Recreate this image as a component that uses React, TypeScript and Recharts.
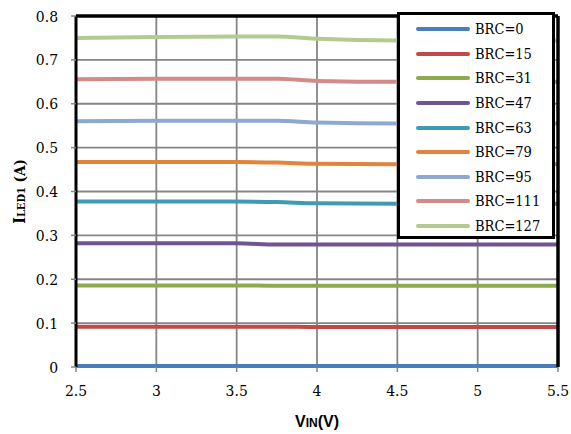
import React from "react";
import {
  CartesianGrid,
  Legend,
  Line,
  LineChart,
  ReferenceLine,
  XAxis,
  YAxis,
} from "recharts";

// input voltage (V)
const vin = [2.5, 3, 3.5, 3.75, 4, 4.5, 5, 5.5];

// LED1 current (A) for each BRC code
const brc0 = [0.002, 0.002, 0.002, 0.002, 0.002, 0.002, 0.002, 0.002];
const brc15 = [0.092, 0.092, 0.092, 0.092, 0.091, 0.091, 0.091, 0.091];
const brc31 = [0.186, 0.186, 0.186, 0.185, 0.185, 0.185, 0.185, 0.185];
const brc47 = [0.282, 0.282, 0.282, 0.279, 0.279, 0.279, 0.279, 0.279];
const brc63 = [0.377, 0.377, 0.377, 0.376, 0.373, 0.372, 0.372, 0.372];
const brc79 = [0.467, 0.467, 0.467, 0.466, 0.463, 0.462, 0.462, 0.462];
const brc95 = [0.56, 0.561, 0.561, 0.561, 0.557, 0.555, 0.555, 0.555];
const brc111 = [0.656, 0.657, 0.657, 0.657, 0.652, 0.65, 0.65, 0.65];
const brc127 = [0.75, 0.752, 0.753, 0.753, 0.748, 0.744, 0.744, 0.744];

const xTicks = [2.5, 3, 3.5, 4, 4.5, 5, 5.5];
const yTicks = [0, 0.1, 0.2, 0.3, 0.4, 0.5, 0.6, 0.7, 0.8];

const series = [
  { key: "brc0", name: "BRC=0", values: brc0, color: "#4a7ebb" },
  { key: "brc15", name: "BRC=15", values: brc15, color: "#be4b48" },
  { key: "brc31", name: "BRC=31", values: brc31, color: "#8cab4c" },
  { key: "brc47", name: "BRC=47", values: brc47, color: "#6f5592" },
  { key: "brc63", name: "BRC=63", values: brc63, color: "#3f9bb3" },
  { key: "brc79", name: "BRC=79", values: brc79, color: "#e2843a" },
  { key: "brc95", name: "BRC=95", values: brc95, color: "#8ea8d4" },
  { key: "brc111", name: "BRC=111", values: brc111, color: "#d38b8a" },
  { key: "brc127", name: "BRC=127", values: brc127, color: "#b4cb8f" },
];

const data = vin.map((v, i) => {
  const row: any = { vin: v };
  series.forEach((s) => (row[s.key] = s.values[i]));
  return row;
});

const serif = "'DejaVu Serif Condensed', 'DejaVu Serif', serif";
const gridColor = "#858585";

function XTick({ x, y, payload }: any) {
  return (
    <text x={x} y={y} dy={11} textAnchor="middle" fontFamily={serif} fontSize={15.5} fill="#000">
      {payload.value}
    </text>
  );
}

function YTick({ x, y, payload }: any) {
  return (
    <text x={x} y={y} dy={5.5} textAnchor="end" fontFamily={serif} fontSize={15.5} fill="#000">
      {payload.value}
    </text>
  );
}

function LegendBox() {
  return (
    <div
      style={{
        width: 152,
        height: 219,
        border: "3px solid #000",
        background: "#fff",
        boxSizing: "content-box",
        paddingTop: 2,
      }}
    >
      {series.map((s) => (
        <div key={s.key} style={{ display: "flex", alignItems: "center", height: 24.6 }}>
          <span
            style={{
              display: "inline-block",
              marginLeft: 16,
              width: 54,
              height: 4,
              borderRadius: 2,
              background: s.color,
            }}
          />
          <span style={{ marginLeft: 5, fontFamily: serif, fontSize: 14.5, color: "#000" }}>{s.name}</span>
        </div>
      ))}
    </div>
  );
}

function YLabel(props: any) {
  const vb = props.viewBox || { x: 0, y: 16, width: 76, height: 351 };
  const cx = vb.x + 25;
  const cy = vb.y + vb.height / 2;
  return (
    <text
      x={cx}
      y={cy}
      transform={`rotate(-90, ${cx}, ${cy})`}
      textAnchor="middle"
      fontFamily={serif}
      fontWeight="bold"
      fill="#000"
    >
      <tspan fontSize={16}>I</tspan>
      <tspan fontSize={11}>LED1</tspan>
      <tspan fontSize={15}> (A)</tspan>
    </text>
  );
}

function XLabel(props: any) {
  const vb = props.viewBox || { x: 76, y: 367, width: 482, height: 67 };
  const cx = vb.x + vb.width / 2;
  return (
    <text
      x={cx}
      y={427}
      textAnchor="middle"
      fontFamily="Liberation Sans"
      fontWeight="bold"
      fill="#000"
    >
      <tspan fontSize={16}>V</tspan>
      <tspan fontSize={12}>IN</tspan>
      <tspan fontSize={16}>(V)</tspan>
    </text>
  );
}

export default function App() {
  return (
    <div style={{ position: "absolute", left: 0, top: 0, width: 571, height: 434, background: "#fff" }}>
      <LineChart
        width={571}
        height={434}
        data={data}
        margin={{ top: 16, right: 13, bottom: 0, left: 0 }}
      >
        <CartesianGrid stroke={gridColor} strokeWidth={1.8} />
        <XAxis
          dataKey="vin"
          type="number"
          domain={[2.5, 5.5]}
          ticks={xTicks}
          height={67}
          tick={<XTick />}
          tickLine={{ stroke: gridColor, strokeWidth: 1.5 }}
          tickSize={5}
          tickMargin={13}
          axisLine={false}
          label={{ content: (p: any) => <XLabel {...p} /> }}
        />
        <YAxis
          type="number"
          domain={[0, 0.8]}
          ticks={yTicks}
          width={76}
          tick={<YTick />}
          tickLine={{ stroke: gridColor, strokeWidth: 1.5 }}
          tickSize={5}
          tickMargin={13}
          axisLine={{ stroke: "#000", strokeWidth: 3 }}
          label={{ content: (p: any) => <YLabel {...p} /> }}
        />
        {series.map((s) => (
          <Line
            key={s.key}
            type="monotone"
            dataKey={s.key}
            name={s.name}
            stroke={s.color}
            strokeWidth={4}
            dot={false}
            isAnimationActive={false}
          />
        ))}
        <ReferenceLine y={0.8} stroke="#000" strokeWidth={3.5} />
        <ReferenceLine x={5.5} stroke="#000" strokeWidth={3.5} />
        <Legend
          layout="vertical"
          align="center"
          verticalAlign="middle"
          content={() => <LegendBox />}
          wrapperStyle={{ left: 397, top: 12, width: 158, height: 226 }}
        />
      </LineChart>
    </div>
  );
}
